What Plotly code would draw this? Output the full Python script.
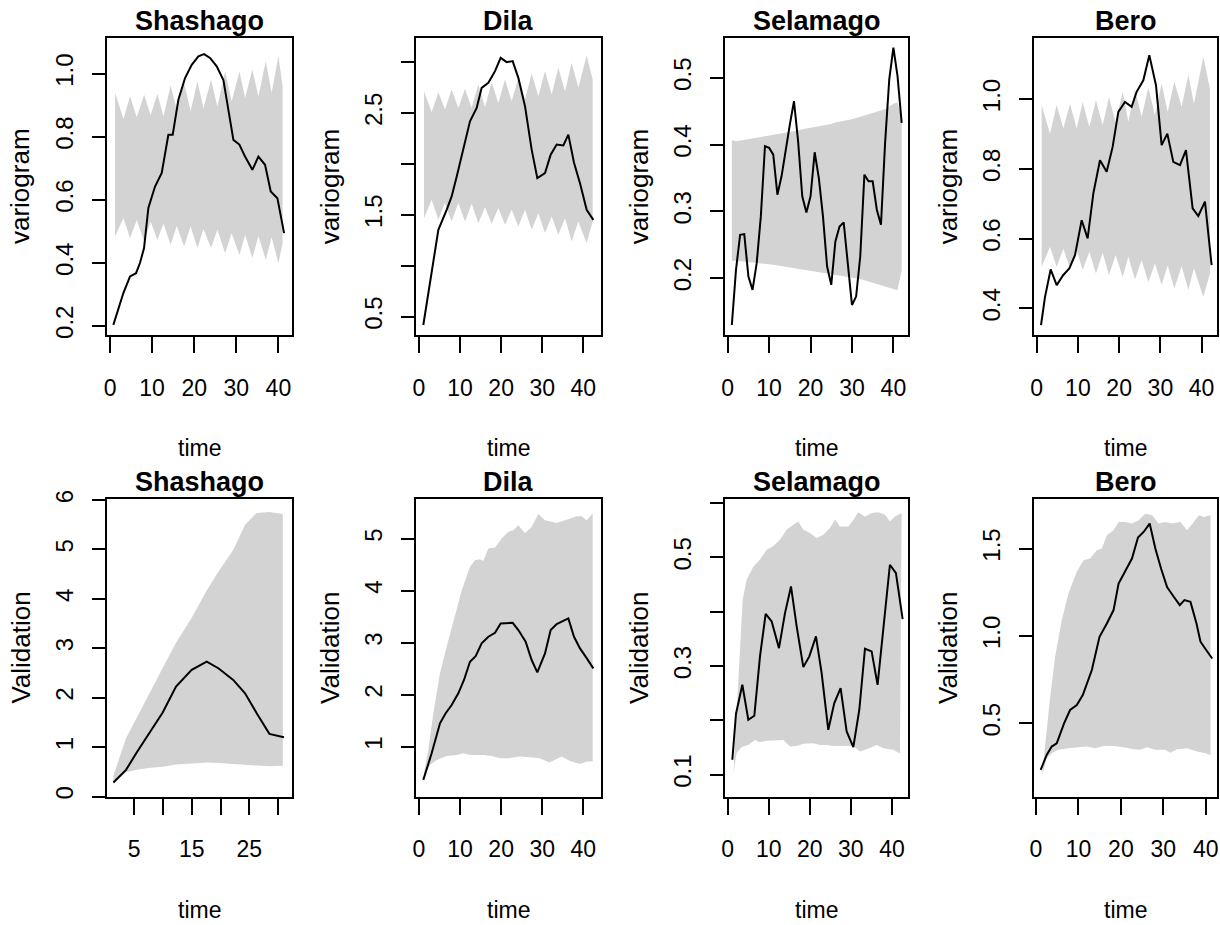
import plotly.graph_objects as go

# ---------------------------------------------------------------------------
# Data: observed curve (black line) and simulation envelope (grey band)
# for each station, top row = empirical variogram, bottom row = validation.
# ---------------------------------------------------------------------------
stations = ["Shashago", "Dila", "Selamago", "Bero"]

# --- Shashago, variogram
sha_var_t = [0.79, 1.98, 3.17, 4.75, 6.18, 7.13, 8.08, 9.11, 10.69, 12.28, 13.86, 14.89,
             16.24, 17.82, 19.41, 20.99, 22.34, 23.76, 25.35, 26.93, 28.12, 29.31, 30.73,
             32.08, 33.82, 35.25, 36.83, 38.18, 39.76, 41.35]
sha_var = [0.203, 0.256, 0.304, 0.357, 0.367, 0.40, 0.447, 0.574, 0.642, 0.685, 0.806, 0.806,
           0.917, 0.986, 1.028, 1.055, 1.062, 1.05, 1.023, 0.98, 0.886, 0.79, 0.775,
           0.737, 0.695, 0.737, 0.711, 0.626, 0.605, 0.494]
sha_var_band_t = [1.2, 3.2, 4.75, 6.35, 8.1, 9.65, 11.25, 12.7, 14.4, 15.85, 17.6, 19.15, 20.75,
                  22.2, 24.0, 25.5, 27.35, 28.9, 30.75, 32.1, 33.8, 35.25, 37.0, 38.4, 40.0, 41.0]
sha_var_hi = [0.939, 0.856, 0.928, 0.862, 0.933, 0.868, 0.936, 0.864, 0.963, 0.886, 0.97, 0.88,
              0.976, 0.89, 0.98, 0.896, 1.007, 0.912, 1.007, 0.923, 1.013, 0.928, 1.039, 0.939,
              1.055, 0.96]
sha_var_lo = [0.484, 0.542, 0.478, 0.536, 0.468, 0.53, 0.473, 0.524, 0.457, 0.517, 0.452, 0.515,
              0.447, 0.507, 0.447, 0.505, 0.43, 0.494, 0.425, 0.489, 0.415, 0.484, 0.41, 0.481,
              0.399, 0.462]

# --- Dila, variogram
dil_var_t = [1.05, 2.84, 4.71, 6.73, 7.95, 9.33, 10.79, 12.41, 14.04, 15.25, 16.88, 18.5, 19.88,
             21.34, 22.8, 24.18, 25.8, 27.42, 28.8, 30.67, 32.05, 33.51, 35.13, 36.35, 37.73,
             39.19, 40.81, 42.43]
dil_var = [0.418, 0.875, 1.352, 1.549, 1.68, 1.90, 2.14, 2.418, 2.549, 2.746, 2.795, 2.91, 3.04,
           2.998, 3.008, 2.844, 2.566, 2.14, 1.86, 1.91, 2.09, 2.19, 2.18, 2.287, 2.01,
           1.81, 1.549, 1.45]
dil_var_band_t = [1.22, 3.08, 4.71, 6.33, 7.95, 9.57, 11.2, 12.82, 14.44, 16.07, 17.69, 19.31,
                  20.93, 22.56, 24.18, 25.8, 27.42, 29.05, 30.67, 32.29, 33.91, 35.54, 37.16,
                  38.78, 40.81, 42.27]
dil_var_hi = [2.713, 2.507, 2.703, 2.533, 2.73, 2.549, 2.736, 2.549, 2.779, 2.559, 2.80, 2.598,
              2.828, 2.615, 2.844, 2.631, 2.887, 2.664, 2.91, 2.68, 2.943, 2.713, 2.992, 2.746,
              3.064, 2.828]
dil_var_lo = [1.467, 1.648, 1.451, 1.615, 1.434, 1.615, 1.434, 1.608, 1.418, 1.575, 1.41, 1.566,
              1.402, 1.549, 1.385, 1.549, 1.352, 1.516, 1.32, 1.484, 1.303, 1.467, 1.238, 1.434,
              1.221, 1.434]

# --- Selamago, variogram
sel_var_t = list(range(1, 43))
sel_var = [0.13, 0.2125, 0.265, 0.266, 0.2025, 0.1825, 0.2225, 0.2925, 0.3975, 0.395, 0.385,
           0.325, 0.3525, 0.395, 0.43, 0.465, 0.405, 0.3225, 0.2985, 0.3225, 0.3885, 0.35,
           0.2925, 0.2175, 0.19, 0.255, 0.2775, 0.2835, 0.2175, 0.16, 0.1725, 0.2325, 0.355,
           0.345, 0.345, 0.3025, 0.28, 0.4025, 0.4975, 0.545, 0.5025, 0.4325]
sel_var_band_t = list(range(1, 43))
sel_var_hi = [0.407, 0.405, 0.406, 0.408, 0.409, 0.410, 0.411, 0.412, 0.413, 0.414, 0.415,
              0.416, 0.417, 0.418, 0.419, 0.420, 0.421, 0.423, 0.424, 0.425, 0.426, 0.427,
              0.429, 0.430, 0.431, 0.433, 0.434, 0.436, 0.437, 0.438, 0.440, 0.441, 0.443,
              0.445, 0.447, 0.449, 0.451, 0.453, 0.457, 0.461, 0.463, 0.440]
sel_var_lo = [0.226, 0.226, 0.225, 0.225, 0.224, 0.224, 0.223, 0.222, 0.222, 0.221, 0.220,
              0.219, 0.218, 0.217, 0.217, 0.216, 0.215, 0.214, 0.213, 0.212, 0.211, 0.210,
              0.209, 0.208, 0.207, 0.206, 0.205, 0.204, 0.203, 0.201, 0.200, 0.199, 0.197,
              0.195, 0.193, 0.191, 0.189, 0.187, 0.185, 0.183, 0.182, 0.212]

# --- Bero, variogram
ber_var_t = [1.05, 2.02, 3.39, 4.85, 6.46, 7.92, 9.29, 10.91, 12.36, 13.74, 15.35, 16.97, 18.42,
             19.8, 21.41, 23.03, 24.24, 25.86, 27.31, 28.93, 30.3, 31.68, 33.13, 34.75, 36.2,
             37.82, 39.19, 40.81, 42.42]
ber_var = [0.352, 0.433, 0.512, 0.467, 0.496, 0.515, 0.553, 0.653, 0.601, 0.73, 0.825, 0.792,
           0.863, 0.9635, 0.992, 0.978, 1.021, 1.054, 1.126, 1.04, 0.868, 0.901, 0.82, 0.811,
           0.854, 0.687, 0.665, 0.706, 0.524]
ber_var_band_t = [1.2, 3.23, 4.85, 6.46, 8.08, 9.7, 11.15, 12.77, 14.38, 16.0, 17.54, 19.15,
                  20.85, 22.22, 23.84, 25.45, 27.07, 28.69, 30.3, 31.76, 33.37, 35.15, 36.77,
                  38.14, 40.4, 42.02]
ber_var_hi = [0.983, 0.901, 0.983, 0.916, 0.986, 0.916, 0.992, 0.92, 0.997, 0.925, 1.005, 0.932,
              1.021, 0.935, 1.027, 0.949, 1.033, 0.954, 1.045, 0.963, 1.05, 0.978, 1.069, 0.987,
              1.121, 1.03]
ber_var_lo = [0.519, 0.577, 0.519, 0.572, 0.515, 0.567, 0.51, 0.562, 0.5, 0.56, 0.4955, 0.553,
              0.49, 0.548, 0.483, 0.538, 0.476, 0.529, 0.467, 0.524, 0.457, 0.521, 0.453, 0.515,
              0.433, 0.5]

# --- Shashago, validation
sha_val_t = [1.42, 3.61, 5.46, 7.49, 9.97, 12.28, 15.0, 17.6, 19.62, 22.2, 24.25, 26.27,
             28.47, 31.0]
sha_val = [0.283, 0.539, 0.89, 1.247, 1.699, 2.225, 2.562, 2.731, 2.596, 2.36, 2.09, 1.686,
           1.268, 1.2]
sha_val_band_t = [1.42, 3.61, 5.46, 7.49, 9.97, 12.28, 15.0, 17.6, 19.62, 22.2, 24.25, 26.27,
                  28.47, 30.8]
sha_val_hi = [0.42, 1.18, 1.61, 2.05, 2.6, 3.11, 3.62, 4.17, 4.55, 4.99, 5.5, 5.74, 5.76, 5.72]
sha_val_lo = [0.26, 0.49, 0.54, 0.575, 0.6, 0.65, 0.67, 0.69, 0.68, 0.665, 0.645, 0.625,
              0.61, 0.62]

# --- Dila, validation
dil_val_t = [1.05, 3.08, 5.11, 6.49, 7.95, 9.57, 10.95, 12.41, 13.79, 15.25, 16.88, 18.5,
             19.88, 21.34, 22.8, 24.18, 25.96, 27.42, 28.8, 30.67, 32.05, 33.51, 34.97, 36.35,
             37.73, 39.19, 40.81, 42.43]
dil_val = [0.36, 0.872, 1.448, 1.64, 1.8, 2.024, 2.28, 2.632, 2.74, 2.984, 3.112, 3.189,
           3.368, 3.368, 3.38, 3.24, 3.016, 2.664, 2.427, 2.79, 3.24, 3.355, 3.41, 3.464,
           3.112, 2.888, 2.7, 2.504]
dil_val_hi_t = [1.22, 2.27, 3.49, 5.11, 6.73, 8.36, 10.39, 12.41, 13.63, 14.85, 15.66, 16.88,
                18.5, 20.12, 21.74, 22.96, 24.18, 25.8, 27.42, 29.05, 30.67, 33.51, 35.94,
                38.38, 39.59, 40.81, 42.27]
dil_val_hi = [0.49, 0.94, 1.64, 2.41, 2.92, 3.43, 4.0, 4.456, 4.584, 4.6, 4.57, 4.81, 4.83,
              5.0, 5.13, 5.16, 5.256, 5.1, 5.22, 5.47, 5.35, 5.3, 5.36, 5.43, 5.43, 5.35, 5.48]
dil_val_lo_t = [1.22, 2.68, 4.3, 6.73, 9.17, 10.79, 12.41, 15.66, 17.69, 19.72, 21.74, 24.58,
                27.83, 29.45, 31.72, 33.1, 34.73, 36.75, 39.19, 40.81, 42.27]
dil_val_lo = [0.424, 0.648, 0.744, 0.82, 0.84, 0.87, 0.84, 0.84, 0.82, 0.776, 0.776, 0.808,
              0.79, 0.776, 0.693, 0.744, 0.808, 0.725, 0.667, 0.712, 0.712]

# --- Selamago, validation
sel_val_t = [1.14, 2.03, 3.57, 5.03, 6.49, 7.87, 9.25, 10.71, 12.49, 13.96, 15.42, 16.8,
             18.42, 19.88, 21.5, 22.88, 24.5, 25.96, 27.5, 28.97, 30.59, 32.05, 33.43, 35.05,
             36.5, 39.5, 40.97, 42.6]
sel_val = [0.1276, 0.2123, 0.2656, 0.2012, 0.2086, 0.3178, 0.3963, 0.3822, 0.3331, 0.3975,
           0.4466, 0.373, 0.2982, 0.3178, 0.3546, 0.2871, 0.1828, 0.2319, 0.2595, 0.1798,
           0.1509, 0.2196, 0.3319, 0.327, 0.2656, 0.4865, 0.4712, 0.3865]
sel_val_hi_t = [1.38, 2.19, 3.0, 3.65, 4.62, 6.25, 7.87, 9.49, 11.12, 12.74, 14.36, 15.98,
                17.2, 18.42, 20.04, 21.66, 23.29, 24.91, 26.13, 27.34, 29.37, 30.59, 31.81,
                33.43, 35.05, 36.67, 38.3, 39.51, 40.73, 42.35]
sel_val_hi = [0.1, 0.2135, 0.336, 0.422, 0.459, 0.483, 0.496, 0.514, 0.521, 0.5325, 0.551,
              0.56, 0.566, 0.551, 0.545, 0.5356, 0.5417, 0.554, 0.57, 0.557, 0.557, 0.569,
              0.583, 0.575, 0.582, 0.583, 0.5785, 0.566, 0.5755, 0.582]
sel_val_lo_t = [1.38, 2.19, 3.41, 5.03, 6.65, 7.87, 9.49, 11.93, 13.55, 15.17, 16.8, 18.42,
                20.85, 22.47, 24.1, 25.72, 28.15, 30.59, 32.21, 33.83, 36.27, 37.9, 40.33, 41.95]
sel_val_lo = [0.103, 0.14, 0.151, 0.155, 0.164, 0.16, 0.1626, 0.164, 0.164, 0.152, 0.153,
              0.157, 0.158, 0.155, 0.155, 0.153, 0.153, 0.153, 0.143, 0.147, 0.155, 0.149,
              0.146, 0.139]

# --- Bero, validation
ber_val_t = [1.1, 2.52, 3.7, 4.88, 6.61, 8.03, 9.61, 11.02, 13.15, 14.96, 16.69, 18.27, 19.45,
             21.02, 22.6, 24.02, 25.35, 26.77, 28.11, 29.45, 30.87, 32.44, 33.86, 34.96, 36.38,
             37.8, 38.74, 39.92, 41.5]
ber_val = [0.2333, 0.319, 0.3667, 0.3857, 0.5, 0.576, 0.605, 0.662, 0.805, 0.995, 1.071,
           1.148, 1.3, 1.367, 1.443, 1.563, 1.595, 1.643, 1.5, 1.386, 1.28, 1.224, 1.176,
           1.205, 1.195, 1.071, 0.967, 0.925, 0.871]
ber_val_hi_t = [1.34, 2.13, 3.31, 4.49, 6.06, 7.64, 9.61, 11.18, 12.76, 14.33, 15.51, 16.69,
                18.27, 19.45, 21.02, 22.6, 24.17, 25.75, 27.32, 28.9, 30.47, 32.05, 34.02,
                35.59, 37.17, 38.35, 39.53, 41.1]
ber_val_hi = [0.186, 0.348, 0.643, 0.88, 1.09, 1.243, 1.367, 1.433, 1.443, 1.49, 1.5, 1.576,
              1.605, 1.652, 1.652, 1.643, 1.662, 1.7, 1.69, 1.643, 1.652, 1.643, 1.652, 1.605,
              1.652, 1.69, 1.68, 1.69]
ber_val_lo_t = [1.34, 2.52, 3.7, 5.28, 7.64, 9.61, 11.97, 13.94, 15.91, 18.27, 20.63, 22.99,
                24.57, 26.14, 28.11, 30.47, 31.65, 33.23, 35.59, 37.95, 39.92, 41.1]
ber_val_lo = [0.195, 0.3, 0.329, 0.348, 0.357, 0.363, 0.367, 0.357, 0.37, 0.37, 0.363, 0.351,
              0.348, 0.363, 0.348, 0.348, 0.332, 0.351, 0.357, 0.338, 0.329, 0.319]

# Axis ticks (value, label) per panel
x_ticks_0_40 = [0, 10, 20, 30, 40]
x_ticks_sha_val = [5, 10, 15, 20, 25, 30]
x_text_sha_val = ["5", "", "15", "", "25", ""]

# ---------------------------------------------------------------------------
# Panel specification
# ---------------------------------------------------------------------------
panels = [
    dict(name="Shashago", ylab="variogram", t=sha_var_t, v=sha_var,
         hi_t=sha_var_band_t, hi=sha_var_hi, lo_t=sha_var_band_t, lo=sha_var_lo,
         xr=[-0.79, 43.16], yr=[0.171, 1.114],
         xt=x_ticks_0_40, xtt=[str(v) for v in x_ticks_0_40],
         yt=[0.2, 0.4, 0.6, 0.8, 1.0], ytt=["0.2", "0.4", "0.6", "0.8", "1.0"]),
    dict(name="Dila", ylab="variogram", t=dil_var_t, v=dil_var,
         hi_t=dil_var_band_t, hi=dil_var_hi, lo_t=dil_var_band_t, lo=dil_var_lo,
         xr=[-0.73, 44.3], yr=[0.32, 3.238],
         xt=x_ticks_0_40, xtt=[str(v) for v in x_ticks_0_40],
         yt=[0.5, 1.0, 1.5, 2.0, 2.5, 3.0], ytt=["0.5", "", "1.5", "", "2.5", ""]),
    dict(name="Selamago", ylab="variogram", t=sel_var_t, v=sel_var,
         hi_t=sel_var_band_t, hi=sel_var_hi, lo_t=sel_var_band_t, lo=sel_var_lo,
         xr=[-0.65, 43.6], yr=[0.115, 0.56],
         xt=x_ticks_0_40, xtt=[str(v) for v in x_ticks_0_40],
         yt=[0.2, 0.3, 0.4, 0.5], ytt=["0.2", "0.3", "0.4", "0.5"]),
    dict(name="Bero", ylab="variogram", t=ber_var_t, v=ber_var,
         hi_t=ber_var_band_t, hi=ber_var_hi, lo_t=ber_var_band_t, lo=ber_var_lo,
         xr=[-0.65, 43.8], yr=[0.324, 1.176],
         xt=x_ticks_0_40, xtt=[str(v) for v in x_ticks_0_40],
         yt=[0.4, 0.6, 0.8, 1.0], ytt=["0.4", "0.6", "0.8", "1.0"]),
    dict(name="Shashago", ylab="Validation", t=sha_val_t, v=sha_val,
         hi_t=sha_val_band_t, hi=sha_val_hi, lo_t=sha_val_band_t, lo=sha_val_lo,
         xr=[0.26, 32.34], yr=[0.0, 6.015],
         xt=x_ticks_sha_val, xtt=x_text_sha_val,
         yt=[0, 1, 2, 3, 4, 5, 6], ytt=["0", "1", "2", "3", "4", "5", "6"]),
    dict(name="Dila", ylab="Validation", t=dil_val_t, v=dil_val,
         hi_t=dil_val_hi_t, hi=dil_val_hi, lo_t=dil_val_lo_t, lo=dil_val_lo,
         xr=[-0.73, 44.3], yr=[0.04, 5.755],
         xt=x_ticks_0_40, xtt=[str(v) for v in x_ticks_0_40],
         yt=[1, 2, 3, 4, 5], ytt=["1", "2", "3", "4", "5"]),
    dict(name="Selamago", ylab="Validation", t=sel_val_t, v=sel_val,
         hi_t=sel_val_hi_t, hi=sel_val_hi, lo_t=sel_val_lo_t, lo=sel_val_lo,
         xr=[-0.65, 43.98], yr=[0.06, 0.607],
         xt=x_ticks_0_40, xtt=[str(v) for v in x_ticks_0_40],
         yt=[0.1, 0.2, 0.3, 0.4, 0.5, 0.6], ytt=["0.1", "", "0.3", "", "0.5", ""]),
    dict(name="Bero", ylab="Validation", t=ber_val_t, v=ber_val,
         hi_t=ber_val_hi_t, hi=ber_val_hi, lo_t=ber_val_lo_t, lo=ber_val_lo,
         xr=[-0.47, 42.7], yr=[0.081, 1.782],
         xt=x_ticks_0_40, xtt=[str(v) for v in x_ticks_0_40],
         yt=[0.5, 1.0, 1.5], ytt=["0.5", "1.0", "1.5"]),
]

# ---------------------------------------------------------------------------
# Page geometry (pixels)
# ---------------------------------------------------------------------------
W, H = 1220, 925
COLS = [(106.7, 291.7), (416.0, 601.0), (725.0, 908.3), (1034.0, 1217.3)]
ROWS = [(37.7, 335.0), (499.3, 796.5)]

FONT = "Liberation Sans, Arial, sans-serif"
BAND = "#d3d3d3"

fig = go.Figure()
layout = dict(width=W, height=H, margin=dict(l=0, r=0, t=0, b=0),
              paper_bgcolor="white", plot_bgcolor="white", showlegend=False,
              annotations=[])

for i, p in enumerate(panels):
    r, c = divmod(i, 4)
    L, R = COLS[c]
    T, B = ROWS[r]
    k = "" if i == 0 else str(i + 1)
    xa, ya = "x" + k, "y" + k

    # envelope polygon
    fig.add_trace(go.Scatter(
        x=p["lo_t"] + p["hi_t"][::-1], y=p["lo"] + p["hi"][::-1],
        mode="lines", fill="toself", fillcolor=BAND, line=dict(width=0, color=BAND),
        hoverinfo="skip", xaxis=xa, yaxis=ya))
    # observed curve
    fig.add_trace(go.Scatter(
        x=p["t"], y=p["v"], mode="lines", line=dict(color="black", width=2),
        xaxis=xa, yaxis=ya))

    common = dict(showline=True, linecolor="black", linewidth=2, mirror=True,
                  ticks="outside", tickwidth=2, tickcolor="black", showgrid=False,
                  zeroline=False, automargin=False, fixedrange=True)
    layout["xaxis" + k] = dict(common, domain=[L / W, R / W], anchor=ya, range=p["xr"],
                               tickmode="array", tickvals=p["xt"], ticktext=p["xtt"],
                               ticklen=16, ticklabelstandoff=15,
                               tickfont=dict(family=FONT, size=23, color="black"))
    layout["yaxis" + k] = dict(common, domain=[1 - B / H, 1 - T / H], anchor=xa,
                               range=p["yr"], tickmode="array", tickvals=p["yt"],
                               ticktext=p["ytt"], ticklen=13, tickangle=-90,
                               ticklabelstandoff=9,
                               tickfont=dict(family=FONT, size=24, color="black"))

    cx = (L + R) / 2
    layout["annotations"] += [
        dict(text=p["name"], x=cx / W, y=1 - (T - 17) / H, xref="paper", yref="paper",
             xanchor="center", yanchor="middle", showarrow=False,
             font=dict(family=FONT, size=27, color="black", weight="bold")),
        dict(text="time", x=cx / W, y=1 - (B + 113) / H, xref="paper", yref="paper",
             xanchor="center", yanchor="middle", showarrow=False,
             font=dict(family=FONT, size=23, color="black")),
        dict(text=p["ylab"], x=(L - 86) / W, y=1 - (T + B) / 2 / H, xref="paper",
             yref="paper", xanchor="center", yanchor="middle", textangle=-90,
             showarrow=False, font=dict(family=FONT, size=26, color="black")),
    ]

fig.update_layout(**layout)
fig.write_html("out.html")
